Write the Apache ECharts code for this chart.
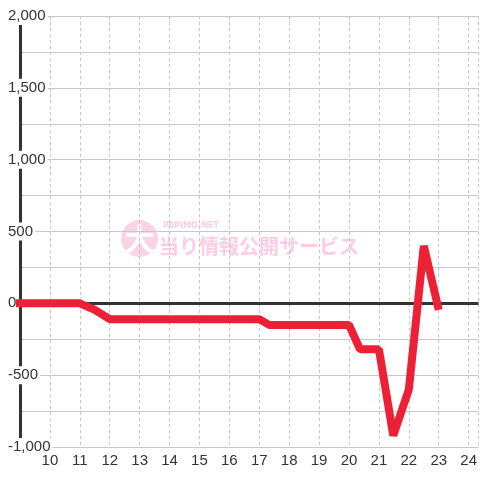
<!DOCTYPE html>
<html>
<head>
<meta charset="utf-8">
<script src="https://cdn.jsdelivr.net/npm/echarts@6/dist/echarts.min.js"></script>
<style>html,body{margin:0;padding:0;background:#fff}#c{width:480px;height:480px}</style>
</head>
<body>
<div id="c"></div>
<script>
var hours = [8.85, 11, 11.5, 12, 17, 17.33, 20, 20.37, 21, 21.48, 22, 22.5, 23];
var values = [0, 0, -45, -110, -110, -150, -150, -320, -320, -920, -600, 400, -45];
var yMin = -1000, yMax = 2000, yStep = 250, yLabelStep = 500;
var xMin = 9, xMax = 24.33;
var wmSmall = 'PAPIMO-NET';
var wmBig = '当り情報公開サービス';
var wmLogo = '大';

var chart = echarts.init(document.getElementById('c'));
var pts = hours.map(function (h, i) { return [h, values[i]]; });
var pink = '#fccde4';
chart.setOption({
  animation: false,
  backgroundColor: '#fff',
  grid: { left: 20, right: 0, top: 16, bottom: 33, containLabel: false },
  xAxis: {
    type: 'value', min: xMin, max: xMax, interval: 1,
    axisLine: { show: false }, axisTick: { show: false },
    axisLabel: { color: '#333', fontSize: 15, fontFamily: 'Liberation Sans', margin: 6,
      showMinLabel: false, showMaxLabel: false },
    splitLine: { show: true, lineStyle: { color: '#c4c4c4', type: [3, 3], width: 1 } }
  },
  yAxis: {
    type: 'value', min: yMin, max: yMax, interval: yStep,
    axisLine: { show: true, lineStyle: { color: '#333', width: 3 } },
    axisTick: { show: false },
    axisLabel: {
      color: '#333', fontSize: 15, fontFamily: 'Liberation Sans', align: 'left', margin: 14,
      backgroundColor: '#fff', padding: [3, 2, 0, 2],
      formatter: function (v) {
        if (v % yLabelStep !== 0) return '';
        return v.toLocaleString('en-US');
      }
    },
    splitLine: { show: true, lineStyle: { color: '#c8c8c8', width: 1 } }
  },
  graphic: [
    { type: 'circle', z: -100, shape: { cx: 139.5, cy: 238.5, r: 18.5 }, style: { fill: '#fbd3e6' } },
    { type: 'text', z: -99, style: { text: wmLogo, x: 139.5, y: 239, fill: '#fff', font: 'bold 30px "Noto Sans CJK JP"', textAlign: 'center', textVerticalAlign: 'middle' } },
    { type: 'text', z: -99, style: { text: wmSmall, x: 163, y: 226, fill: pink, font: 'bold 8px "DejaVu Sans"', textAlign: 'left', textVerticalAlign: 'middle' } },
    { type: 'text', z: -99, style: { text: wmBig, x: 159, y: 246, fill: pink, font: 'bold 20px "Noto Sans CJK JP"', textAlign: 'left', textVerticalAlign: 'middle' } }
  ],
  series: [
    {
      type: 'line', data: [], z: 1,
      markLine: {
        z: 1, silent: true, symbol: ['none', 'none'], label: { show: false },
        lineStyle: { color: '#333', width: 3, type: 'solid' },
        data: [{ yAxis: 0 }]
      }
    },
    {
      type: 'line', data: pts, z: 3, clip: false, showSymbol: false, symbol: 'none',
      lineStyle: { color: '#ed2136', width: 8, join: 'bevel', cap: 'butt' }
    }
  ]
});
</script>
</body>
</html>
